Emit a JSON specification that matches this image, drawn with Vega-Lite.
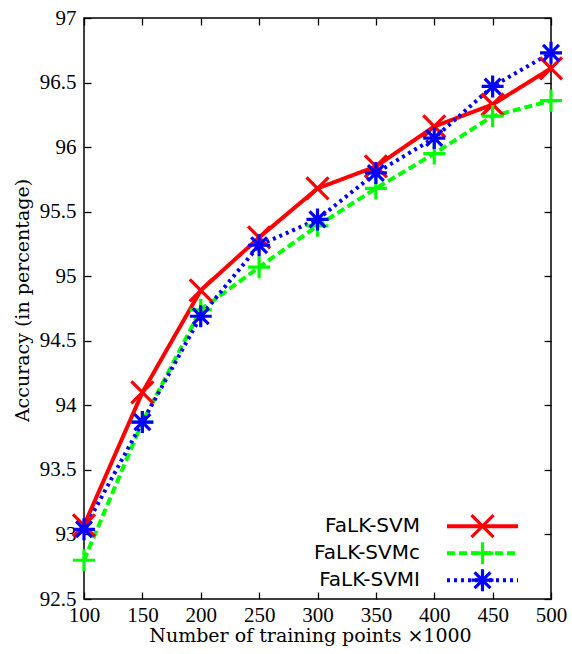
{
  "$schema": "https://vega.github.io/schema/vega-lite/v6.json",
  "width": 467,
  "height": 581,
  "autosize": {"type": "none"},
  "padding": {"left": 84, "top": 18, "right": 21, "bottom": 55},
  "background": "white",
  "config": {
    "view": {"stroke": "black", "strokeWidth": 1.5},
    "axis": {
      "grid": false,
      "domain": false,
      "tickColor": "black",
      "tickWidth": 1.3,
      "tickSize": -7,
      "labelFlush": false,
      "labelColor": "black",
      "labelFont": "Liberation Serif",
      "labelFontSize": 21,
      "titleColor": "black",
      "titleFont": "DejaVu Serif",
      "titleFontSize": 19,
      "titleFontWeight": "normal"
    }
  },
  "data": {
    "values": [
      {"points": 100, "accuracy": 93.07, "series": "FaLK-SVM"},
      {"points": 150, "accuracy": 94.1, "series": "FaLK-SVM"},
      {"points": 200, "accuracy": 94.89, "series": "FaLK-SVM"},
      {"points": 250, "accuracy": 95.3, "series": "FaLK-SVM"},
      {"points": 300, "accuracy": 95.68, "series": "FaLK-SVM"},
      {"points": 350, "accuracy": 95.85, "series": "FaLK-SVM"},
      {"points": 400, "accuracy": 96.16, "series": "FaLK-SVM"},
      {"points": 450, "accuracy": 96.33, "series": "FaLK-SVM"},
      {"points": 500, "accuracy": 96.61, "series": "FaLK-SVM"},
      {"points": 100, "accuracy": 92.8, "series": "FaLK-SVMc"},
      {"points": 150, "accuracy": 93.87, "series": "FaLK-SVMc"},
      {"points": 200, "accuracy": 94.74, "series": "FaLK-SVMc"},
      {"points": 250, "accuracy": 95.07, "series": "FaLK-SVMc"},
      {"points": 300, "accuracy": 95.39, "series": "FaLK-SVMc"},
      {"points": 350, "accuracy": 95.68, "series": "FaLK-SVMc"},
      {"points": 400, "accuracy": 95.95, "series": "FaLK-SVMc"},
      {"points": 450, "accuracy": 96.24, "series": "FaLK-SVMc"},
      {"points": 500, "accuracy": 96.36, "series": "FaLK-SVMc"},
      {"points": 100, "accuracy": 93.04, "series": "FaLK-SVMI"},
      {"points": 150, "accuracy": 93.87, "series": "FaLK-SVMI"},
      {"points": 200, "accuracy": 94.69, "series": "FaLK-SVMI"},
      {"points": 250, "accuracy": 95.24, "series": "FaLK-SVMI"},
      {"points": 300, "accuracy": 95.44, "series": "FaLK-SVMI"},
      {"points": 350, "accuracy": 95.8, "series": "FaLK-SVMI"},
      {"points": 400, "accuracy": 96.07, "series": "FaLK-SVMI"},
      {"points": 450, "accuracy": 96.47, "series": "FaLK-SVMI"},
      {"points": 500, "accuracy": 96.73, "series": "FaLK-SVMI"}
    ]
  },
  "layer": [
    {
      "mark": {"type": "line", "strokeWidth": 4, "clip": false},
      "encoding": {
        "x": {
          "field": "points", "type": "quantitative",
          "scale": {"domain": [100, 500], "nice": false, "zero": false},
          "axis": {"orient": "bottom", "values": [100, 150, 200, 250, 300, 350, 400, 450, 500], "format": "d", "labelPadding": 12, "title": "Number of training points ×1000", "titlePadding": 1, "titleX": 226}
        },
        "y": {
          "field": "accuracy", "type": "quantitative",
          "scale": {"domain": [92.5, 97], "nice": false, "zero": false},
          "axis": {"orient": "left", "values": [92.5, 93, 93.5, 94, 94.5, 95, 95.5, 96, 96.5, 97], "format": ".1~f", "labelPadding": 15, "title": "Accuracy (in percentage)", "titlePadding": 7, "titleY": 282}
        },
        "color": {
          "field": "series", "type": "nominal",
          "scale": {"domain": ["FaLK-SVM", "FaLK-SVMc", "FaLK-SVMI"], "range": ["#ff0000", "#00ff00", "#0000ff"]},
          "legend": {"orient": "none", "legendX": 357.5, "legendY": 495, "title": null, "padding": 0, "symbolType": "M-3.23,0L3.23,0", "symbolSize": 484, "symbolStrokeWidth": 4, "symbolOffset": 28, "labelAlign": "right", "labelOffset": -75.5, "labelFont": "DejaVu Sans", "labelFontSize": 20, "labelColor": "black", "clipHeight": 26.4, "rowPadding": 0, "encode": {"entries": {"update": {"width": {"value": 100}, "height": {"value": 26.4}}}}}
        },
        "strokeDash": {
          "field": "series", "type": "nominal",
          "scale": {"domain": ["FaLK-SVM", "FaLK-SVMc", "FaLK-SVMI"], "range": [[1, 0], [8, 4], [3, 4]]},
          "legend": {"orient": "none", "legendX": 357.5, "legendY": 495, "title": null, "padding": 0, "symbolType": "M-3.23,0L3.23,0", "symbolSize": 484, "symbolStrokeWidth": 4, "symbolOffset": 28, "labelAlign": "right", "labelOffset": -75.5, "labelFont": "DejaVu Sans", "labelFontSize": 20, "labelColor": "black", "clipHeight": 26.4, "rowPadding": 0, "encode": {"entries": {"update": {"width": {"value": 100}, "height": {"value": 26.4}}}}}
        }
      }
    },
    {
      "mark": {"type": "point", "filled": false, "size": 484, "strokeWidth": 3.2, "opacity": 1, "clip": false},
      "encoding": {
        "x": {
          "field": "points", "type": "quantitative",
          "scale": {"domain": [100, 500], "nice": false, "zero": false},
          "axis": {"orient": "top", "values": [100, 150, 200, 250, 300, 350, 400, 450, 500], "labels": false, "title": null}
        },
        "y": {
          "field": "accuracy", "type": "quantitative",
          "scale": {"domain": [92.5, 97], "nice": false, "zero": false},
          "axis": {"orient": "right", "values": [92.5, 93, 93.5, 94, 94.5, 95, 95.5, 96, 96.5, 97], "labels": false, "title": null}
        },
        "color": {
          "field": "series", "type": "nominal",
          "scale": {"domain": ["FaLK-SVM", "FaLK-SVMc", "FaLK-SVMI"], "range": ["#ff0000", "#00ff00", "#0000ff"]},
          "legend": {"orient": "none", "legendX": 357.5, "legendY": 495, "title": null, "padding": 0, "symbolSize": 484, "symbolStrokeWidth": 3.2, "symbolFillColor": "transparent", "symbolOffset": 28, "labelAlign": "left", "labelOffset": 0, "labelOpacity": 1, "labelColor": "transparent", "labelFont": "DejaVu Sans", "labelFontSize": 8, "clipHeight": 26.4, "rowPadding": 0, "encode": {"entries": {"update": {"width": {"value": 200}, "height": {"value": 26.4}}}}}
        },
        "shape": {
          "field": "series", "type": "nominal",
          "scale": {"domain": ["FaLK-SVM", "FaLK-SVMc", "FaLK-SVMI"], "range": ["M-1,-1L1,1M-1,1L1,-1", "M-1,0L1,0M0,-1L0,1", "M-1,0L1,0M0,-1L0,1M-0.72,-0.72L0.72,0.72M-0.72,0.72L0.72,-0.72"]},
          "legend": {"orient": "none", "legendX": 357.5, "legendY": 495, "title": null, "padding": 0, "symbolSize": 484, "symbolStrokeWidth": 3.2, "symbolFillColor": "transparent", "symbolOffset": 28, "labelAlign": "left", "labelOffset": 0, "labelOpacity": 1, "labelColor": "transparent", "labelFont": "DejaVu Sans", "labelFontSize": 8, "clipHeight": 26.4, "rowPadding": 0, "encode": {"entries": {"update": {"width": {"value": 200}, "height": {"value": 26.4}}}}}
        }
      }
    }
  ],
  "resolve": {
    "scale": {"color": "independent", "shape": "independent", "strokeDash": "independent"},
    "axis": {"x": "independent", "y": "independent"},
    "legend": {"color": "independent", "shape": "independent", "strokeDash": "independent"}
  }
}
